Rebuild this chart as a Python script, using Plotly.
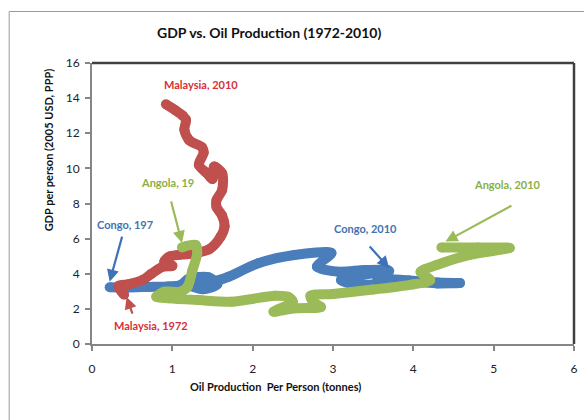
import plotly.graph_objects as go

# Trajectories 1972-2010: oil production per person (tonnes) vs GDP per person (thousand 2005 USD, PPP)
congo_x = [0.22, 0.45, 0.70, 0.95, 1.10, 1.20, 1.45, 1.56, 1.38, 1.22, 1.35, 1.55, 1.70, 2.07, 2.52,
           2.98, 2.80, 3.06, 3.39, 3.68, 3.10, 3.31, 3.60, 3.96, 4.30, 4.58, 4.30, 3.95, 3.55, 3.70]
congo_y = [3.23, 3.22, 3.25, 3.28, 3.35, 3.70, 3.80, 3.40, 3.12, 3.35, 3.55, 3.60, 3.83, 4.60, 5.07,
           5.18, 4.40, 4.12, 4.21, 4.21, 3.64, 3.36, 3.45, 3.55, 3.45, 3.47, 3.50, 3.62, 3.80, 4.15]

malaysia_x = [0.40, 0.33, 0.45, 0.63, 0.74, 0.88, 1.00, 0.90, 0.96, 1.25, 1.46, 1.60, 1.65, 1.62,
              1.55, 1.55, 1.62, 1.62, 1.52, 1.50, 1.43, 1.33, 1.39, 1.37, 1.21, 1.15, 1.17, 1.13,
              1.04, 0.92]
malaysia_y = [2.80, 3.30, 3.40, 3.64, 4.00, 4.40, 4.45, 4.70, 4.97, 5.15, 5.40, 6.10, 6.70, 7.30,
              7.80, 8.20, 8.77, 9.72, 10.10, 9.40, 9.72, 10.20, 10.90, 11.20, 11.60, 12.20, 12.76,
              13.00, 13.30, 13.65]

angola_x = [1.12, 1.29, 1.31, 1.25, 1.19, 1.10, 0.90, 0.80, 0.96, 1.33, 1.74, 2.28, 2.44, 2.50,
            2.26, 2.53, 2.85, 2.75, 2.72, 3.00, 3.50, 4.00, 4.21, 4.09, 4.29, 4.70, 5.20, 4.80, 4.35]
angola_y = [5.50, 5.64, 5.18, 4.20, 3.26, 2.98, 2.98, 2.69, 2.60, 2.50, 2.41, 2.75, 2.69, 2.41,
            1.84, 2.03, 2.10, 2.40, 2.75, 2.85, 3.10, 3.40, 3.64, 4.10, 4.50, 5.07, 5.47, 5.50, 5.50]

# Callout labels: text, text position, arrow tail, arrow tip
labels = [
    ("Malaysia, 2010", 1.36, 14.75, None, None, None, None),
    ("Malaysia, 1972", 0.73, 1.08, 0.51, 1.65, 0.43, 2.68),
    ("Congo, 197", 0.41, 6.83, 0.38, 6.20, 0.22, 3.55),
    ("Angola, 19", 0.94, 9.17, 0.98, 8.20, 1.12, 5.75),
    ("Congo, 2010", 3.40, 6.60, 3.44, 5.64, 3.70, 4.31),
    ("Angola, 2010", 5.17, 9.11, 5.24, 7.92, 4.40, 5.83),
]
label_colors = ["#D6303A", "#D6303A", "#4472AE", "#8BAF45", "#4472AE", "#8BAF45"]
arrow_colors = ["#C0504D", "#C0504D", "#3E72B8", "#9BBB59", "#3E72B8", "#9BBB59"]

FONT = "Lato, 'Open Sans', sans-serif"
W, H = 584, 420
L, R, T, B = 92, 6, 63, 76
PW, PH = W - L - R, H - T - B


def px(xp):
    return (xp - L) / PW


def py(yp):
    return (H - B - yp) / PH


fig = go.Figure()
for name, xs, ys, col in [("Congo", congo_x, congo_y, "#4A7EBB"),
                          ("Malaysia", malaysia_x, malaysia_y, "#C0504D"),
                          ("Angola", angola_x, angola_y, "#9BBB59")]:
    fig.add_trace(go.Scatter(
        x=xs, y=ys, name=name, mode="lines+markers",
        line=dict(color=col, width=10, shape="spline", smoothing=0.8),
        marker=dict(color=col, size=10, line=dict(width=0)),
        hoverinfo="skip", showlegend=False, cliponaxis=False))

annotations = []
for (txt, tx, ty, ax, ay, hx, hy), lc, ac in zip(labels, label_colors, arrow_colors):
    annotations.append(dict(x=tx, y=ty, xref="x", yref="y", text=f"<b>{txt}</b>",
                            xanchor="center", yanchor="middle",
                            showarrow=False, font=dict(family=FONT, size=11, color=lc)))
    if ax is not None:
        annotations.append(dict(x=hx, y=hy, ax=ax, ay=ay, xref="x", yref="y", axref="x", ayref="y",
                                text="", showarrow=True, arrowhead=2, arrowsize=1.1,
                                arrowwidth=2.2, arrowcolor=ac))

annotations += [
    dict(x=px(270), y=py(33), xref="paper", yref="paper", xanchor="center", yanchor="middle",
         text="<b>GDP vs. Oil Production (1972-2010)</b>",
         showarrow=False, font=dict(family=FONT, size=14, color="#111")),
    dict(x=px(277), y=py(386), xref="paper", yref="paper", xanchor="center", yanchor="middle",
         text="<b>Oil Production  Per Person (tonnes)</b>",
         showarrow=False, font=dict(family=FONT, size=11, color="#111")),
    dict(x=px(48), y=py(150), xref="paper", yref="paper", xanchor="center", yanchor="middle",
         text="<b>GDP per person (2005 USD, PPP)</b>",
         textangle=-90, showarrow=False, font=dict(family=FONT, size=11, color="#111")),
]

shapes = [
    # plot-area frame, top and right edges
    dict(type="line", xref="paper", yref="paper", x0=0, y0=1, x1=1, y1=1,
         line=dict(color="#404040", width=2.5)),
    dict(type="line", xref="paper", yref="paper", x0=1, y0=0, x1=1, y1=1,
         line=dict(color="#404040", width=2.5)),
    # chart-area border
    dict(type="path", xref="paper", yref="paper",
         path=f"M {px(8.5)} {py(425)} L {px(8.5)} {py(11.5)} L {px(590)} {py(11.5)}",
         line=dict(color="#9A9A9A", width=1)),
]

axis_common = dict(showline=True, linecolor="#868686", linewidth=2, ticks="outside", ticklen=5,
                   tickwidth=2, tickcolor="#868686", showgrid=False, zeroline=False,
                   tickfont=dict(family=FONT, size=12, color="#222"), fixedrange=True)

fig.update_layout(
    width=W, height=H, autosize=False,
    margin=dict(l=L, r=R, t=T, b=B, pad=0),
    paper_bgcolor="white", plot_bgcolor="white",
    xaxis=dict(range=[0, 6], dtick=1, ticklabelstandoff=8, **axis_common),
    yaxis=dict(range=[0, 16], dtick=2, ticklabelstandoff=3, **axis_common),
    annotations=annotations, shapes=shapes,
)

fig.write_html("out.html", config={"displayModeBar": False})
